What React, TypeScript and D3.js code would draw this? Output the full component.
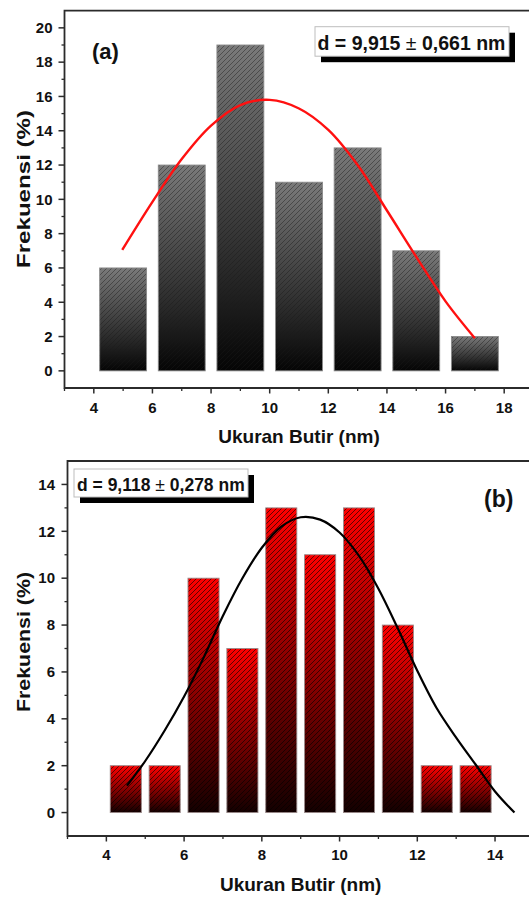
import React from "react";
import * as d3 from "d3";

// ---------- Data ----------
// Panel (a)
const binsA = [5, 7, 9, 11, 13, 15, 17];
const freqA = [6, 12, 19, 11, 13, 7, 2];
const fitAx = [4.97, 6, 7, 8, 9, 10, 11, 12, 13, 14, 15, 16, 17];
const fitAy = [7.05, 9.85, 12.35, 14.3, 15.5, 15.8, 15.3, 14.05, 12.0, 9.35, 6.65, 4.05, 1.9];
const xTicksA = [4, 6, 8, 10, 12, 14, 16, 18];
const yTicksA = [0, 2, 4, 6, 8, 10, 12, 14, 16, 18, 20];
const labelA = "(a)";
const statA = ["d = 9,915 ", "\u00b1", " 0,661 nm"];

// Panel (b)
const binsB = [4.5, 5.5, 6.5, 7.5, 8.5, 9.5, 10.5, 11.5, 12.5, 13.5];
const freqB = [2, 2, 10, 7, 13, 11, 13, 8, 2, 2];
const fitBx = [4.53, 5, 5.5, 6, 6.5, 7, 7.5, 8, 8.5, 9, 9.5, 10, 10.5, 11, 11.5, 12, 12.5, 13, 13.5, 14, 14.5];
const fitBy = [1.15, 2.2, 3.5, 4.95, 6.6, 8.4, 10.0, 11.3, 12.2, 12.6, 12.5, 11.95, 10.95, 9.55, 7.85, 6.05, 4.45, 3.2, 2.05, 0.9, 0.0];
const xTicksB = [4, 6, 8, 10, 12, 14];
const yTicksB = [0, 2, 4, 6, 8, 10, 12, 14];
const labelB = "(b)";
const statB = ["d = 9,118 ", "\u00b1", " 0,278 nm"];

const xTitle = "Ukuran Butir (nm)";
const yTitle = "Frekuensi (%)";

const FONT = "Arial, 'Liberation Sans', Helvetica, sans-serif";

type PanelProps = {
  id: string;
  bins: number[];
  freq: number[];
  barW: number;
  fitX: number[];
  fitY: number[];
  xTicks: number[];
  yTicks: number[];
  xDomain: [number, number];
  yDomain: [number, number];
  left: number;
  right: number;
  top: number;
  bottom: number;
  gradTop: string;
  gradBottom: string;
  barStroke: string;
  hatchColor: string;
  curveColor: string;
  curveWidth: number;
  yLabelRight: number;
  xLabelBaseline: number;
  yTitleCenter: number;
  yTitleLen: number;
  xTitleBaseline: number;
  label: string;
  labelX: number;
  labelY: number;
  labelSize: number;
  stat: string[];
  box: { x: number; y: number; w: number; h: number; tx: number; ty: number; fs: number };
};

function Panel(p: PanelProps) {
  const x = d3.scaleLinear().domain(p.xDomain).range([p.left, p.right]);
  const y = d3.scaleLinear().domain(p.yDomain).range([p.bottom, p.top]);
  const line = d3
    .line<number>()
    .x((_, i) => x(p.fitX[i]))
    .y((d) => y(d))
    .curve(d3.curveCatmullRom.alpha(0.5));

  const xMinor: number[] = [];
  for (let v = Math.ceil(p.xDomain[0]); v < p.xDomain[1]; v++) if (!p.xTicks.includes(v)) xMinor.push(v);
  const yMinor: number[] = [];
  for (let v = Math.ceil(p.yDomain[0]) + 1; v < p.yDomain[1]; v++) if (!p.yTicks.includes(v)) yMinor.push(v);

  const axisColor = "#2b2b2b";
  return (
    <g>
      <defs>
        <linearGradient id={`grad-${p.id}`} x1="0" y1="0" x2="0" y2="1">
          <stop offset="0" stopColor={p.gradTop} />
          <stop offset="1" stopColor={p.gradBottom} />
        </linearGradient>
        <pattern id={`hatch-${p.id}`} patternUnits="userSpaceOnUse" width="5" height="5">
          <path d="M-1,6 L6,-1 M-1,1 L1,-1 M4,6 L6,4" stroke={p.hatchColor} strokeWidth="0.8" />
        </pattern>
      </defs>
      {p.bins.map((b, i) => {
        const x0 = x(b - p.barW / 2);
        const x1 = x(b + p.barW / 2);
        const y0 = y(p.freq[i]);
        const y1 = y(0);
        return (
          <g key={i}>
            <rect x={x0} y={y0} width={x1 - x0} height={y1 - y0} fill={`url(#grad-${p.id})`} />
            <rect x={x0} y={y0} width={x1 - x0} height={y1 - y0} fill={`url(#hatch-${p.id})`} stroke={p.barStroke} strokeWidth={0.9} />
          </g>
        );
      })}
      <path d={line(p.fitY) || ""} fill="none" stroke={p.curveColor} strokeWidth={p.curveWidth} />
      {/* frame */}
      <path
        d={`M${p.right + 5},${p.top} L${p.left},${p.top} L${p.left},${p.bottom} L${p.right + 5},${p.bottom}`}
        fill="none"
        stroke={axisColor}
        strokeWidth={1.8}
      />
      {/* y ticks */}
      {p.yTicks.map((t) => (
        <g key={`yt${t}`}>
          <line x1={p.left - 6} x2={p.left} y1={y(t)} y2={y(t)} stroke={axisColor} strokeWidth={1.5} />
          <text x={p.yLabelRight} y={y(t) + 5.3} textAnchor="end" fontSize={15} fontWeight="bold" fontFamily={FONT} fill="#111">
            {t}
          </text>
        </g>
      ))}
      {yMinor.map((t) => (
        <line key={`ym${t}`} x1={p.left - 3} x2={p.left} y1={y(t)} y2={y(t)} stroke={axisColor} strokeWidth={1.3} />
      ))}
      {/* x ticks */}
      {p.xTicks.map((t) => (
        <g key={`xt${t}`}>
          <line x1={x(t)} x2={x(t)} y1={p.bottom} y2={p.bottom + 5.5} stroke={axisColor} strokeWidth={1.5} />
          <text x={x(t)} y={p.xLabelBaseline} textAnchor="middle" fontSize={15} fontWeight="bold" fontFamily={FONT} fill="#111">
            {t}
          </text>
        </g>
      ))}
      {xMinor.map((t) => (
        <line key={`xm${t}`} x1={x(t)} x2={x(t)} y1={p.bottom} y2={p.bottom + 3} stroke={axisColor} strokeWidth={1.3} />
      ))}
      {/* axis titles */}
      <text
        x={(p.left + p.right) / 2}
        y={p.xTitleBaseline}
        textAnchor="middle"
        fontSize={19}
        fontWeight="bold"
        fontFamily={FONT}
        fill="#111"
      >
        {xTitle}
      </text>
      <text
        transform={`translate(30,${p.yTitleCenter}) rotate(-90)`}
        x={-p.yTitleLen / 2}
        y={0}
        fontSize={18}
        fontWeight="bold"
        fontFamily={FONT}
        fill="#111"
        textLength={p.yTitleLen}
        lengthAdjust="spacingAndGlyphs"
      >
        {yTitle}
      </text>
      {/* panel label */}
      <text x={p.labelX} y={p.labelY} fontSize={p.labelSize} fontWeight="bold" fontFamily={FONT} fill="#111">
        {p.label}
      </text>
      {/* stat box */}
      <rect x={p.box.x + 6} y={p.box.y + 6} width={p.box.w} height={p.box.h} fill="#000" />
      <rect x={p.box.x} y={p.box.y} width={p.box.w} height={p.box.h} fill="#fff" stroke="#bdbdbd" strokeWidth={1} />
      <text x={p.box.tx} y={p.box.ty} fontSize={p.box.fs} fontWeight="bold" fontFamily={FONT} fill="#111">
        <tspan>{p.stat[0]}</tspan>
        <tspan fontWeight="normal">{p.stat[1]}</tspan>
        <tspan>{p.stat[2]}</tspan>
      </text>
    </g>
  );
}

export default function App() {
  return (
    <svg
      width={529}
      height={897}
      style={{ position: "absolute", left: 0, top: 0, background: "#fff" }}
    >
      <rect x={0} y={0} width={529} height={897} fill="#fff" />
      <Panel
        id="a"
        bins={binsA}
        freq={freqA}
        barW={1.6}
        fitX={fitAx}
        fitY={fitAy}
        xTicks={xTicksA}
        yTicks={yTicksA}
        xDomain={[3, 19]}
        yDomain={[-1, 21]}
        left={64.5}
        right={533.5}
        top={10.7}
        bottom={388}
        gradTop="#7a7a7a"
        gradBottom="#050505"
        barStroke="#8a8a8a"
        hatchColor="rgba(25,25,25,0.55)"
        curveColor="#ff1010"
        curveWidth={2.4}
        yLabelRight={52.5}
        xLabelBaseline={413}
        yTitleCenter={189}
        yTitleLen={158}
        xTitleBaseline={443}
        label={labelA}
        labelX={92}
        labelY={59}
        labelSize={22}
        stat={statA}
        box={{ x: 315, y: 26.7, w: 194, h: 29.5, tx: 317.5, ty: 50, fs: 19.5 }}
      />
      <Panel
        id="b"
        bins={binsB}
        freq={freqB}
        barW={0.8}
        fitX={fitBx}
        fitY={fitBy}
        xTicks={xTicksB}
        yTicks={yTicksB}
        xDomain={[3, 15]}
        yDomain={[-1, 15]}
        left={67.5}
        right={533.9}
        top={461}
        bottom={836}
        gradTop="#ff0000"
        gradBottom="#140000"
        barStroke="#9a8a8a"
        hatchColor="rgba(0,0,0,0.75)"
        curveColor="#000"
        curveWidth={2.2}
        yLabelRight={55}
        xLabelBaseline={860}
        yTitleCenter={642}
        yTitleLen={140}
        xTitleBaseline={891}
        label={labelB}
        labelX={484}
        labelY={507}
        labelSize={23}
        stat={statB}
        box={{ x: 74, y: 469, w: 174, h: 28, tx: 77, ty: 491, fs: 17.5 }}
      />
    </svg>
  );
}
